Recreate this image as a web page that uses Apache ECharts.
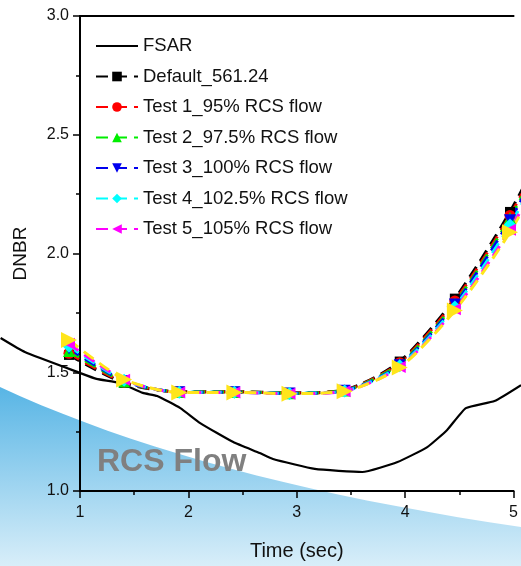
<!DOCTYPE html>
<html>
<head>
<meta charset="utf-8">
<script src="https://cdn.jsdelivr.net/npm/echarts@6/dist/echarts.min.js"></script>
<style>
  html, body { margin: 0; padding: 0; background: #fff; }
  #chart { width: 521px; height: 566px; }
</style>
</head>
<body>
<div id="chart"></div>
<script>
// marker times (sec) shared by the test runs
const times = [0.9, 1.4, 1.9, 2.4, 2.9, 3.4, 3.9, 4.4, 4.9, 5.4];

// FSAR reference curve (time, DNBR)
const fsarTime = [0.28, 0.5, 1.0, 1.15, 1.36, 1.57, 1.7, 1.91, 2.09, 2.39, 2.63, 2.75, 3.13, 3.56, 3.88, 4.15, 4.33, 4.5, 4.76, 5.0];
const fsarDnbr = [1.644, 1.585, 1.497, 1.472, 1.455, 1.413, 1.40, 1.349, 1.286, 1.206, 1.16, 1.135, 1.093, 1.08, 1.122, 1.185, 1.257, 1.349, 1.379, 1.446];

const defaultRun = [1.573, 1.455, 1.418, 1.418, 1.413, 1.425, 1.545, 1.81, 2.175, 2.62];
const test1 = [1.58, 1.458, 1.417, 1.417, 1.412, 1.424, 1.54, 1.80, 2.16, 2.60];
const test2 = [1.59, 1.461, 1.417, 1.417, 1.412, 1.423, 1.535, 1.79, 2.15, 2.58];
const test3 = [1.60, 1.463, 1.416, 1.416, 1.411, 1.422, 1.53, 1.785, 2.14, 2.57];
const test4 = [1.61, 1.466, 1.416, 1.416, 1.411, 1.421, 1.527, 1.775, 2.12, 2.55];
const test5 = [1.62, 1.468, 1.415, 1.415, 1.41, 1.42, 1.522, 1.765, 2.10, 2.53];
const test6 = [1.636, 1.47, 1.415, 1.415, 1.41, 1.42, 1.52, 1.76, 2.09, 2.52];

const names = ["FSAR", "Default_561.24", "Test 1_95% RCS flow", "Test 2_97.5% RCS flow",
  "Test 3_100% RCS flow", "Test 4_102.5% RCS flow", "Test 5_105% RCS flow"];

const font = "'Liberation Sans', Arial, sans-serif";

// the data runs past the left axis, so it sits on a wider hidden grid with the same scale
const plotLeft = 80, plotWidth = 441;
const hiddenMin = 1 - plotLeft * 4 / plotWidth;

function pairs(xs, ys) {
  return xs.map((x, i) => [x, ys[i]]);
}

// decorative blue wave in the background (quadratic edge, sampled)
const wave = [];
for (let t = 0; t <= 1.0001; t += 0.05) {
  const u = 1 - t;
  wave.push([2 * u * t * 200 + t * t * 521, u * u * 387 + 2 * u * t * 480 + t * t * 527]);
}
wave.push([521, 566], [0, 566]);

function runSeries(name, values, color, symbol, size, rotate) {
  return {
    name: name,
    type: "line",
    xAxisIndex: 2,
    yAxisIndex: 1,
    data: pairs(times, values),
    smooth: 0.25,
    symbol: symbol,
    symbolSize: size,
    symbolRotate: rotate || 0,
    showAllSymbol: true,
    lineStyle: { color: color, width: 3, type: [12, 7] },
    itemStyle: { color: color },
    emphasis: { disabled: true }
  };
}

const hiddenAxis = {
  axisLine: { show: false },
  axisTick: { show: false },
  axisLabel: { show: false },
  splitLine: { show: false }
};

const chart = echarts.init(document.getElementById("chart"));
const option = {
  animation: false,
  backgroundColor: "#fff",
  grid: [
    { left: plotLeft, right: 0, top: 16, bottom: 75 },
    { left: 0, right: 0, top: 16, bottom: 75 }
  ],
  graphic: [
    {
      type: "polygon",
      z: -10,
      shape: { points: wave },
      style: {
        fill: {
          type: "linear", x: 0, y: 387, x2: 0, y2: 566, global: true,
          colorStops: [
            { offset: 0, color: "#58b5e5" },
            { offset: 1, color: "#d8eef9" }
          ]
        }
      }
    },
    {
      type: "text",
      z: -5,
      x: 97,
      y: 446,
      style: {
        text: "RCS Flow",
        font: "bold 32px 'Liberation Sans', Arial, sans-serif",
        fill: "#808080"
      }
    }
  ],
  legend: {
    orient: "vertical",
    left: 90,
    top: 31,
    itemWidth: 42,
    itemHeight: 12,
    itemGap: 10.5,
    data: [{ name: names[0], itemStyle: { opacity: 0 } }].concat(names.slice(1)),
    textStyle: { fontFamily: font, fontSize: 18.5, lineHeight: 20, color: "#111" }
  },
  xAxis: [
    {
      type: "value",
      gridIndex: 0,
      min: 1,
      max: 5,
      interval: 1,
      name: "Time (sec)",
      nameLocation: "middle",
      nameGap: 50,
      nameTextStyle: { fontFamily: font, fontSize: 20, color: "#111" },
      axisLine: { lineStyle: { color: "#000", width: 2 } },
      axisTick: { length: 7, lineStyle: { color: "#000", width: 1.5 } },
      minorTick: { show: true, splitNumber: 2, length: 4, lineStyle: { color: "#000", width: 1.5 } },
      splitLine: { show: false },
      axisLabel: { fontFamily: font, fontSize: 16, color: "#111", margin: 14 }
    },
    {
      type: "value",
      gridIndex: 0,
      position: "top",
      min: 1,
      max: 5,
      axisLine: { show: true, lineStyle: { color: "#000", width: 2 } },
      axisTick: { show: false },
      axisLabel: { show: false },
      splitLine: { show: false }
    },
    Object.assign({ type: "value", gridIndex: 1, min: hiddenMin, max: 5 }, hiddenAxis)
  ],
  yAxis: [
    {
      type: "value",
      gridIndex: 0,
      min: 1,
      max: 3,
      interval: 0.5,
      name: "DNBR",
      nameLocation: "middle",
      nameGap: 50,
      nameTextStyle: { fontFamily: font, fontSize: 19, color: "#111" },
      axisLine: { show: true, lineStyle: { color: "#000", width: 2 } },
      axisTick: { length: 7, lineStyle: { color: "#000", width: 1.5 } },
      minorTick: { show: true, splitNumber: 2, length: 4, lineStyle: { color: "#000", width: 1.5 } },
      splitLine: { show: false },
      axisLabel: { fontFamily: font, fontSize: 16, color: "#111", margin: 11, formatter: v => v.toFixed(1) }
    },
    Object.assign({ type: "value", gridIndex: 1, min: 1, max: 3 }, hiddenAxis)
  ],
  series: [
    {
      name: names[0],
      type: "line",
      xAxisIndex: 2,
      yAxisIndex: 1,
      data: pairs(fsarTime, fsarDnbr),
      smooth: 0.15,
      symbol: "none",
      lineStyle: { color: "#000", width: 2.2 },
      itemStyle: { color: "#000" },
      emphasis: { disabled: true }
    },
    runSeries(names[1], defaultRun, "#000000", "rect", 10),
    runSeries(names[2], test1, "#ff0000", "circle", 11),
    runSeries(names[3], test2, "#00ee00", "triangle", 12),
    runSeries(names[4], test3, "#0000ee", "triangle", 12, 180),
    runSeries(names[5], test4, "#00ffff", "diamond", 13),
    runSeries(names[6], test5, "#ff00ff", "triangle", 12, 90),
    runSeries("Test 6", test6, "#ffe51a", "triangle", 16, -90)
  ]
};
chart.setOption(option);
</script>
</body>
</html>
